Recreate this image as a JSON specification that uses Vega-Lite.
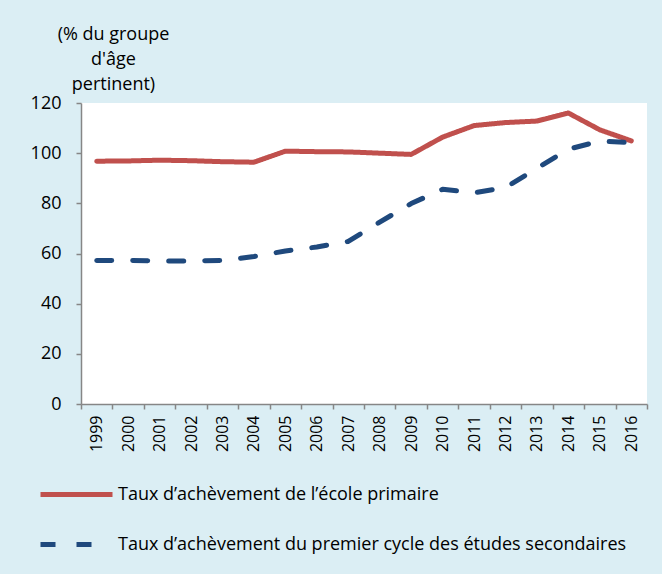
{
  "$schema": "https://vega.github.io/schema/vega-lite/v6.json",
  "width": 566,
  "height": 301,
  "autosize": "none",
  "padding": {"left": 81, "top": 103, "right": 15, "bottom": 170},
  "background": "#DBEEF4",
  "view": {"fill": "#FFFFFF", "stroke": null},
  "config": {"font": "Open Sans"},
  "data": {
    "values": [
      {"year": "1999", "series": "Taux d’achèvement de l’école primaire", "value": 96.8},
      {"year": "2000", "series": "Taux d’achèvement de l’école primaire", "value": 96.9},
      {"year": "2001", "series": "Taux d’achèvement de l’école primaire", "value": 97.2},
      {"year": "2002", "series": "Taux d’achèvement de l’école primaire", "value": 97.0},
      {"year": "2003", "series": "Taux d’achèvement de l’école primaire", "value": 96.6},
      {"year": "2004", "series": "Taux d’achèvement de l’école primaire", "value": 96.4},
      {"year": "2005", "series": "Taux d’achèvement de l’école primaire", "value": 100.8},
      {"year": "2006", "series": "Taux d’achèvement de l’école primaire", "value": 100.6},
      {"year": "2007", "series": "Taux d’achèvement de l’école primaire", "value": 100.5},
      {"year": "2008", "series": "Taux d’achèvement de l’école primaire", "value": 100.0},
      {"year": "2009", "series": "Taux d’achèvement de l’école primaire", "value": 99.5},
      {"year": "2010", "series": "Taux d’achèvement de l’école primaire", "value": 106.4},
      {"year": "2011", "series": "Taux d’achèvement de l’école primaire", "value": 111.0},
      {"year": "2012", "series": "Taux d’achèvement de l’école primaire", "value": 112.2},
      {"year": "2013", "series": "Taux d’achèvement de l’école primaire", "value": 112.8},
      {"year": "2014", "series": "Taux d’achèvement de l’école primaire", "value": 116.0},
      {"year": "2015", "series": "Taux d’achèvement de l’école primaire", "value": 109.3},
      {"year": "2016", "series": "Taux d’achèvement de l’école primaire", "value": 104.9},
      {"year": "1999", "series": "Taux d’achèvement du premier cycle des études secondaires", "value": 57.2},
      {"year": "2000", "series": "Taux d’achèvement du premier cycle des études secondaires", "value": 57.3},
      {"year": "2001", "series": "Taux d’achèvement du premier cycle des études secondaires", "value": 57.0},
      {"year": "2002", "series": "Taux d’achèvement du premier cycle des études secondaires", "value": 57.0},
      {"year": "2003", "series": "Taux d’achèvement du premier cycle des études secondaires", "value": 57.2},
      {"year": "2004", "series": "Taux d’achèvement du premier cycle des études secondaires", "value": 58.8},
      {"year": "2005", "series": "Taux d’achèvement du premier cycle des études secondaires", "value": 61.0},
      {"year": "2006", "series": "Taux d’achèvement du premier cycle des études secondaires", "value": 62.6},
      {"year": "2007", "series": "Taux d’achèvement du premier cycle des études secondaires", "value": 64.8},
      {"year": "2008", "series": "Taux d’achèvement du premier cycle des études secondaires", "value": 72.5},
      {"year": "2009", "series": "Taux d’achèvement du premier cycle des études secondaires", "value": 79.9},
      {"year": "2010", "series": "Taux d’achèvement du premier cycle des études secondaires", "value": 85.6},
      {"year": "2011", "series": "Taux d’achèvement du premier cycle des études secondaires", "value": 84.2},
      {"year": "2012", "series": "Taux d’achèvement du premier cycle des études secondaires", "value": 86.3},
      {"year": "2013", "series": "Taux d’achèvement du premier cycle des études secondaires", "value": 94.0},
      {"year": "2014", "series": "Taux d’achèvement du premier cycle des études secondaires", "value": 101.6},
      {"year": "2015", "series": "Taux d’achèvement du premier cycle des études secondaires", "value": 104.8},
      {"year": "2016", "series": "Taux d’achèvement du premier cycle des études secondaires", "value": 104.2}
    ]
  },
  "mark": {"type": "line", "strokeWidth": 5, "strokeCap": "round", "strokeJoin": "round"},
  "encoding": {
    "x": {
      "field": "year",
      "type": "ordinal",
      "scale": {"type": "band", "paddingInner": 0, "paddingOuter": 0},
      "axis": {
        "title": null,
        "tickBand": "extent",
        "labelAngle": -90,
        "labelAlign": "right",
        "labelBaseline": "middle",
        "labelFontSize": 16,
        "labelColor": "#000000",
        "labelPadding": 6,
        "domainColor": "#868686",
        "domainWidth": 1.5,
        "tickColor": "#868686",
        "tickWidth": 1.5,
        "tickSize": 5,
        "grid": false
      }
    },
    "y": {
      "field": "value",
      "type": "quantitative",
      "scale": {"domain": [0, 120], "nice": false, "zero": true},
      "axis": {
        "values": [0, 20, 40, 60, 80, 100, 120],
        "title": ["(% du groupe", "d'âge", "pertinent)"],
        "titleAngle": 0,
        "titleAlign": "center",
        "titleBaseline": "top",
        "titleX": 32,
        "titleY": -78,
        "titleFontSize": 18,
        "titleFontWeight": "normal",
        "titleLineHeight": 25,
        "titleColor": "#000000",
        "labelFontSize": 18,
        "labelColor": "#000000",
        "labelPadding": 15,
        "domainColor": "#868686",
        "domainWidth": 1.5,
        "tickColor": "#868686",
        "tickWidth": 1.5,
        "tickSize": 5,
        "grid": false
      }
    },
    "color": {
      "field": "series",
      "type": "nominal",
      "scale": {
        "domain": ["Taux d’achèvement de l’école primaire", "Taux d’achèvement du premier cycle des études secondaires"],
        "range": ["#C0504D", "#1F497D"]
      },
      "legend": {
        "title": null,
        "orient": "none",
        "legendX": -43,
        "legendY": 353,
        "direction": "vertical",
        "symbolType": "stroke",
        "symbolSize": 5184,
        "symbolStrokeWidth": 5,
        "labelFontSize": 18,
        "labelColor": "#000000",
        "labelOffset": 3,
        "labelLimit": 700,
        "rowPadding": 1
      }
    },
    "strokeDash": {
      "field": "series",
      "type": "nominal",
      "scale": {
        "domain": ["Taux d’achèvement de l’école primaire", "Taux d’achèvement du premier cycle des études secondaires"],
        "range": [[1, 0], [15, 21]]
      },
      "legend": {
        "title": null,
        "orient": "none",
        "legendX": -43,
        "legendY": 353,
        "direction": "vertical",
        "symbolType": "stroke",
        "symbolSize": 5184,
        "symbolStrokeWidth": 5,
        "labelFontSize": 18,
        "labelColor": "#000000",
        "labelOffset": 3,
        "labelLimit": 700,
        "rowPadding": 1
      }
    }
  }
}
